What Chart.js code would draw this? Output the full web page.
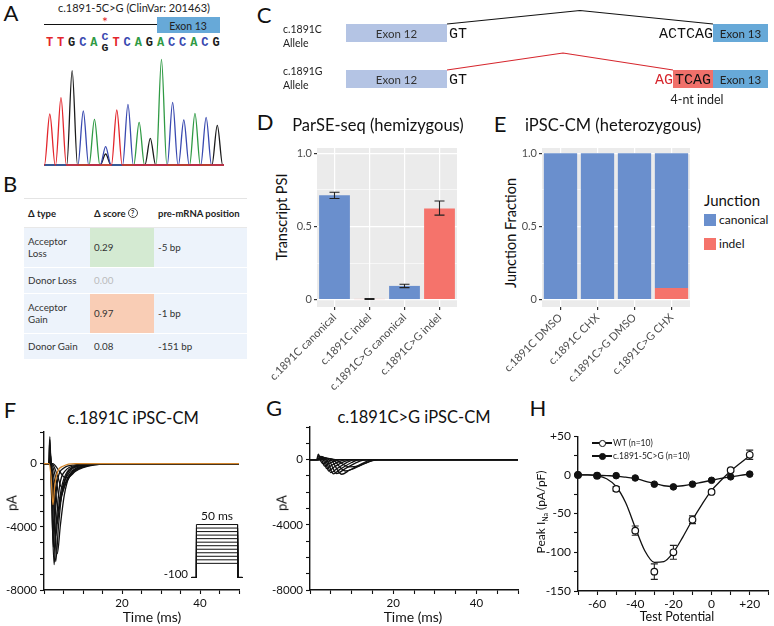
<!DOCTYPE html>
<html><head><meta charset="utf-8"><title>Figure</title>
<script src="https://cdn.jsdelivr.net/npm/chart.js@4.4.1/dist/chart.umd.min.js"></script>
<style>
html,body{margin:0;padding:0;background:#fff}
#root{position:relative;width:774px;height:626px;overflow:hidden;font-family:Lato,"Open Sans",sans-serif;color:#1a1a1a}
.t{position:absolute;white-space:nowrap;line-height:1}
#root canvas{position:absolute}
.rect{position:absolute}
.mono{font-family:"Liberation Mono","DejaVu Sans Mono",monospace}
.row{display:flex;border-bottom:1px solid #fff}
.cell{display:flex;align-items:center;box-sizing:border-box;padding-left:4px}
</style></head>
<body><div id="root"></div>
<script>
// ================= DATA =================
// A: Sanger chromatogram around c.1891-5C>G
const seqBases = ['T','T','G','C','A','C','T','C','A','G','A','C','C','A','C','G'];
const peakHeights = [153,202,283,162,137,55,165,182,128,80,317,188,135,155,143,119];
const variantIndex = 5;
const variantAlt = 'G';
const altPeakHeight = 33;

// B: SpliceAI table
const deltaTypes = ['Acceptor Loss','Donor Loss','Acceptor Gain','Donor Gain'];
const deltaScores = ['0.29','0.00','0.97','0.08'];
const deltaPositions = ['-5 bp','','-1 bp','-151 bp'];

// D: ParSE-seq
const psiLabels = ['c.1891C canonical','c.1891C indel','c.1891C>G canonical','c.1891C>G indel'];
const psiJunction = ['canonical','indel','canonical','indel'];
const psiValues = [0.712, 0.005, 0.094, 0.623];
const psiErrLow = [0.69, 0.002, 0.082, 0.577];
const psiErrHigh = [0.733, 0.008, 0.105, 0.673];
const psiTicks = [0, 0.25, 0.5, 0.75, 1];
const psiTickLabels = ['0', '', '0.5', '', '1.0'];

// E: iPSC-CM junction fractions
const cmLabels = ['c.1891C DMSO','c.1891C CHX','c.1891C>G DMSO','c.1891C>G CHX'];
const cmIndel = [0, 0, 0, 0.08];
const cmCanonical = [1, 1, 1, 0.92];

// F: c.1891C iPSC-CM sodium current traces [time ms, current pA]
const fTraces = [
 [[0,0],[1.2,0],[1.5,1700],[1.9,-1500],[2.4,-5300],[2.9,-2500],[3.6,-900],[5,-300],[8,-80],[12,0],[50,0]],
 [[0,0],[1.2,0],[1.5,1500],[2.0,-2500],[2.6,-6400],[3.2,-3600],[4.0,-1400],[5.5,-450],[8.5,-120],[13,0],[50,0]],
 [[0,0],[1.3,0],[1.6,800],[2.2,-2500],[3.0,-6200],[3.7,-4000],[4.6,-1800],[6,-600],[9,-150],[14,0],[50,0]],
 [[0,0],[1.3,0],[1.7,500],[2.5,-2500],[3.4,-5700],[4.2,-3900],[5.2,-2000],[6.5,-800],[9.5,-250],[15,0],[50,0]],
 [[0,0],[1.4,0],[2.3,-1500],[3.0,-4600],[3.7,-2900],[4.6,-1400],[6,-500],[9,-120],[14,0],[50,0]],
 [[0,0],[1.5,0],[2.5,-1500],[3.3,-3800],[4.1,-2500],[5.2,-1200],[6.8,-450],[10,-100],[15,0],[50,0]],
 [[0,0],[1.6,0],[2.8,-1300],[3.6,-3000],[4.5,-2100],[5.7,-1100],[7.3,-450],[10.5,-120],[16,0],[50,0]],
 [[0,0],[1.8,0],[3.1,-1000],[4.0,-2200],[5.0,-1600],[6.3,-900],[8,-400],[11,-120],[17,0],[50,0]],
 [[0,0],[2.0,0],[3.5,-800],[4.5,-1500],[5.6,-1200],[7,-700],[8.7,-330],[12,-100],[18,0],[50,0]],
 [[0,0],[2.2,0],[4.0,-500],[5.5,-900],[6.7,-800],[8,-500],[10,-250],[13,-80],[19,0],[50,0]],
 [[0,0],[1.3,0],[1.8,-800],[2.3,-2600],[2.8,-1300],[3.5,-500],[5,-150],[8,0],[50,0]]
];
// G: c.1891C>G iPSC-CM traces
const gTraces = [
 [[0,0],[1.6,0],[2.0,340],[2.6,-100],[3.2,-250],[4.2,-120],[6,0],[50,0]],
 [[0,0],[1.7,0],[2.1,250],[2.8,0],[3.5,-400],[4.5,-250],[6.5,-50],[8,0],[50,0]],
 [[0,0],[1.8,0],[2.4,200],[3.2,0],[4.0,-550],[5.2,-350],[7.5,-80],[9,0],[50,0]],
 [[0,0],[2.0,0],[2.6,200],[3.5,0],[4.5,-700],[5.8,-450],[8.2,-120],[10,0],[50,0]],
 [[0,0],[2.0,0],[2.8,180],[3.8,0],[5.0,-800],[6.5,-550],[9,-150],[11,0],[50,0]],
 [[0,0],[2.2,0],[3.0,150],[4.1,0],[5.6,-870],[7.2,-600],[10,-180],[12,0],[50,0]],
 [[0,0],[2.3,0],[3.2,120],[4.5,0],[6.4,-860],[8.2,-600],[11,-200],[13.5,0],[50,0]],
 [[0,0],[2.5,0],[3.5,100],[5.0,0],[7.6,-900],[9.5,-650],[12.5,-250],[15,0],[50,0]],
 [[0,0],[2.7,0],[3.8,80],[5.5,0],[8.5,-700],[10.5,-550],[13.5,-200],[16,0],[50,0]],
 [[0,0],[3.0,0],[4.2,60],[6,0],[9.5,-450],[11.5,-400],[14,-150],[16.5,0],[50,0]]
];
const traceYTicks = [-8000,-7000,-6000,-5000,-4000,-3000,-2000,-1000,0,1000,2000];
const traceYTickLabels = ['-8000','','','','-4000','','','','0','',''];
const traceXTicks = [0,5,10,15,20,25,30,35,40,45,50];
const traceXTickLabels = ['','','','','20','','','','40','',''];

// Voltage protocol (inset)
const protoHolding = -100;
const protoSteps = [-60,-50,-40,-30,-20,-10,0,10,20,30,40,50];
const protoDuration = 50;

// H: peak INa density vs test potential
const hVoltages = [-70,-60,-50,-40,-30,-20,-10,0,10,20];
const hWT = [0,-1,-18,-72,-125,-100,-58,-22,6,26];
const hWTerr = [1,1,3,6,10,9,5,2,2,6];
const hMut = [0,-1,-1,-4,-12,-15.5,-12,-7,-2.5,1];
const hFitV = [-70,-65,-60,-55,-50,-45,-40,-35,-30,-25,-20,-15,-10,-5,0,5,10,15,20];
const hWTFit = [0,0,-1,-5,-15,-36,-68,-98,-113,-112,-100,-80,-58,-38,-20,-7,5,15,25];
const hMutFit = [0,0,-0.5,-1,-1.5,-3,-4.5,-8,-11,-14,-15,-14,-12,-9.5,-7,-4.5,-2.5,-0.5,1];
const hYTicks = [-150,-125,-100,-75,-50,-25,0,25,50];
const hYTickLabels = ['-150','','-100','','-50','','0','','+50'];
const hXTicks = [-70,-60,-50,-40,-30,-20,-10,0,10,20,30];
const hXTickLabels = ['','-60','','-40','','-20','','0','','+20',''];

// ================= HELPERS =================
const root = document.getElementById('root');
function txt(s, x, y, o) {
  o = o || {};
  const d = document.createElement('div');
  d.className = 't' + (o.mono ? ' mono' : '');
  if (o.html) d.innerHTML = s; else d.textContent = s;
  d.style.left = x + 'px'; d.style.top = y + 'px';
  d.style.fontSize = (o.size || 12) + 'px';
  if (o.color) d.style.color = o.color;
  if (o.weight) d.style.fontWeight = o.weight;
  const ax = o.align === 'left' ? '0%' : o.align === 'right' ? '-100%' : '-50%';
  d.style.transform = 'translate(' + ax + ',-50%)' + (o.rotate ? ' rotate(' + o.rotate + 'deg)' : '');
  root.appendChild(d); return d;
}
function rect(x, y, w, h, bg) {
  const d = document.createElement('div'); d.className = 'rect';
  d.style.cssText += 'left:' + x + 'px;top:' + y + 'px;width:' + w + 'px;height:' + h + 'px;background:' + bg;
  root.appendChild(d); return d;
}
function mkCanvas(x, y, w, h) {
  const c = document.createElement('canvas');
  c.width = w; c.height = h;
  c.style.left = x + 'px'; c.style.top = y + 'px'; c.style.width = w + 'px'; c.style.height = h + 'px';
  root.appendChild(c); return c;
}
function fitY(w) { return s => { s.width = w; s.paddingTop = 0; s.paddingBottom = 0; }; }
function fitX(h) { return s => { s.height = h; s.paddingLeft = 0; s.paddingRight = 0; }; }
function setTicks(vals) { return s => { s.ticks = vals.map(v => ({ value: v })); }; }
function labelFrom(vals, labels) { return v => { const i = vals.indexOf(v); return i < 0 ? '' : labels[i]; }; }

Chart.defaults.font.family = 'Lato';
Chart.defaults.color = '#222';
const noPlug = { legend: { display: false }, tooltip: { enabled: false }, title: { display: false } };
const BLUE = '#6a8fcd', RED = '#f5736b';

const panelBg = { id: 'panelBg', beforeDraw(chart) { const a = chart.chartArea, c = chart.ctx; c.save(); c.fillStyle = '#ebebeb'; c.fillRect(a.left, a.top, a.width, a.height); c.restore(); } };
function drawErr(chart, idx, when) {
  const ds = chart.data.datasets[idx];
  if (!ds.errLow || ds.errWhen !== when) return;
  const meta = chart.getDatasetMeta(idx), ys = chart.scales.y, c = chart.ctx, cap = ds.errCap;
  c.save(); c.strokeStyle = '#222'; c.lineWidth = ds.errWidth || 1.1;
  meta.data.forEach((el, i) => {
    const lo = ds.errLow[i], hi = ds.errHigh[i];
    if (lo == null) return;
    const x = el.x, y1 = ys.getPixelForValue(lo), y2 = ys.getPixelForValue(hi);
    c.beginPath(); c.moveTo(x, y1); c.lineTo(x, y2);
    c.moveTo(x - cap, y1); c.lineTo(x + cap, y1); c.moveTo(x - cap, y2); c.lineTo(x + cap, y2); c.stroke();
  });
  c.restore();
}
const errPlugin = { id: 'errbars',
  beforeDatasetDraw(chart, args) { drawErr(chart, args.index, 'before'); },
  afterDatasetDraw(chart, args) { drawErr(chart, args.index, 'after'); } };

// ================= PANEL LETTERS =================
[['A',11,13],['B',10,184],['C',264,15],['D',265,122],['E',500,124],['F',10,410],['G',274,408],['H',538,408]]
  .forEach(p => txt(p[0], p[1], p[2], { size: 22, color: '#111' }));

// ================= A =================
txt('c.1891-5C>G (ClinVar: 201463)', 134, 7, { size: 11, color: '#222' });
rect(44, 24, 113, 1.2, '#111');
txt('*', 105, 22, { size: 14, color: '#e3262c' });
rect(157, 17, 63, 16, '#67a9d8');
txt('Exon 13', 188, 25.5, { size: 10.5, color: '#222' });
const baseColors = { A: '#2f9a44', C: '#3949b0', G: '#1b1b1b', T: '#e3262c' };
seqBases.forEach((b, i) => {
  const x = 49.5 + i * 11.1;
  if (i === variantIndex) {
    txt(b, x, 37, { size: 11.5, mono: true, weight: 'bold', color: baseColors[b] });
    txt(variantAlt, x, 48, { size: 11.5, mono: true, weight: 'bold', color: baseColors[variantAlt] });
  } else {
    txt(b, x, 43, { size: 12, mono: true, weight: 'bold', color: baseColors[b] });
  }
});
(function () {
  const x0 = -0.52, x1 = 15.6, hw = 0.48;
  const peaks = { A: [], C: [], G: [], T: [] };
  seqBases.forEach((b, i) => peaks[b].push([i, peakHeights[i]]));
  peaks[variantAlt].push([variantIndex, altPeakHeight]);
  const datasets = ['T', 'C', 'A', 'G'].map(b => {
    const pk = peaks[b].sort((p, q) => p[0] - q[0]);
    const pts = [{ x: x0, y: 0 }];
    pk.forEach(p => { pts.push({ x: p[0] - hw, y: 0 }, { x: p[0], y: p[1] }, { x: p[0] + hw, y: 0 }); });
    pts.push({ x: x1, y: 0 });
    return { data: pts, borderColor: baseColors[b], borderWidth: 1.3, pointRadius: 0, cubicInterpolationMode: 'monotone' };
  });
  new Chart(mkCanvas(44, 55, 180, 113), {
    type: 'line', data: { datasets },
    options: { responsive: false, maintainAspectRatio: false, animation: false, plugins: noPlug, layout: { padding: 0 },
      scales: { x: { type: 'linear', display: false, min: x0, max: x1 }, y: { display: false, min: -9, max: 330 } } }
  });
})();

// ================= B =================
(function () {
  const tb = document.createElement('div');
  tb.style.cssText = 'position:absolute;left:24px;top:198px;width:223px;border-top:1px solid #e4e4e4;font-family:Lato;color:#333';
  const widths = [66, 64, 93];
  const hdr = document.createElement('div'); hdr.className = 'row'; hdr.style.height = '28px'; hdr.style.borderBottom = '1px solid #e8e8e8';
  ['&#916; type', '&#916; score <span style="display:inline-block;width:8px;height:8px;border:1px solid #444;border-radius:50%;font-size:7px;line-height:8px;text-align:center;vertical-align:1px;margin-left:2px">?</span>', 'pre-mRNA position']
    .forEach((h, i) => { const c = document.createElement('div'); c.className = 'cell'; c.style.width = widths[i] + 'px'; c.style.fontWeight = 'bold'; c.style.fontSize = '9.5px'; c.style.color = '#222'; c.innerHTML = h; hdr.appendChild(c); });
  tb.appendChild(hdr);
  const heights = [39, 25, 39, 25];
  const scoreBg = { '0.29': '#d4ead2', '0.97': '#f9cdb5' };
  deltaTypes.forEach((t, r) => {
    const row = document.createElement('div'); row.className = 'row'; row.style.height = heights[r] + 'px'; row.style.background = '#edf3fb';
    [t, deltaScores[r], deltaPositions[r]].forEach((v, i) => {
      const c = document.createElement('div'); c.className = 'cell'; c.style.width = widths[i] + 'px'; c.style.fontSize = '9.8px';
      c.style.lineHeight = '1.15';
      if (i === 0) c.style.paddingRight = '10px';
      if (i === 1 && scoreBg[v]) c.style.background = scoreBg[v];
      if (i === 1 && v === '0.00') c.style.color = '#bbb';
      c.textContent = v; row.appendChild(c);
    });
    tb.appendChild(row);
  });
  root.appendChild(tb);
})();

// ================= C =================
(function () {
  const ns = 'http://www.w3.org/2000/svg';
  const svg = document.createElementNS(ns, 'svg');
  svg.setAttribute('width', 774); svg.setAttribute('height', 120);
  svg.style.cssText = 'position:absolute;left:0;top:0';
  [['447,24 580,10.5 713,24', '#111'], ['447,70 563,53 673,70', '#d6262d']].forEach(p => {
    const pl = document.createElementNS(ns, 'polyline');
    pl.setAttribute('points', p[0]); pl.setAttribute('fill', 'none'); pl.setAttribute('stroke', p[1]); pl.setAttribute('stroke-width', '1.2');
    svg.appendChild(pl);
  });
  root.appendChild(svg);
  txt('c.1891C', 283, 29, { size: 10.5, align: 'left', color: '#222' });
  txt('Allele', 283, 43, { size: 10.5, align: 'left', color: '#222' });
  txt('c.1891G', 283, 71, { size: 10.5, align: 'left', color: '#222' });
  txt('Allele', 283, 85, { size: 10.5, align: 'left', color: '#222' });
  [24, 70].forEach(y => {
    rect(346, y, 101, 18, '#b4c4e4');
    txt('Exon 12', 396.5, y + 9.5, { size: 11.5, color: '#333' });
    rect(713, y, 55, 18, '#67a9d8');
    txt('Exon 13', 740.5, y + 9.5, { size: 11.5, color: '#222' });
    txt('GT', 449, y + 10, { size: 15, mono: true, align: 'left', color: '#111' });
  });
  txt('ACTCAG', 713, 34, { size: 15, mono: true, align: 'right', color: '#111' });
  rect(673, 70, 40, 18, '#f0706a');
  txt('TCAG', 693, 80, { size: 15, mono: true, color: '#111' });
  txt('AG', 673, 80, { size: 15, mono: true, align: 'right', color: '#d6262d' });
  txt('4-nt indel', 697, 100, { size: 12.5, color: '#222' });
})();

// ================= D =================
txt('ParSE-seq (hemizygous)', 378, 125, { size: 16.5, color: '#111' });
txt('Transcript PSI', 282, 217, { size: 14.5, rotate: -90, color: '#111' });
function ggY(w) {
  const isMajor = c => c.tick && psiTickLabels[psiTicks.indexOf(c.tick.value)] !== '';
  return { min: -0.05, max: 1.035, stacked: true, afterBuildTicks: setTicks(psiTicks),
    grid: { color: '#fff', lineWidth: c => isMajor(c) ? 1.2 : 0.6, tickLength: 3, tickColor: c => isMajor(c) ? '#333' : 'rgba(0,0,0,0)' },
    border: { display: false },
    ticks: { callback: labelFrom(psiTicks, psiTickLabels), font: { size: 11 }, color: '#4d4d4d', padding: 2, autoSkip: false },
    afterFit: fitY(w) };
}
function ggX() {
  return { stacked: true, grid: { offset: false, color: '#fff', lineWidth: 1.2, tickLength: 3, tickColor: '#333' }, border: { display: false },
    ticks: { autoSkip: false, minRotation: 45, maxRotation: 45, font: { size: 11 }, color: '#4d4d4d', padding: 1 },
    afterFit: fitX(83) };
}
new Chart(mkCanvas(262, 140, 200, 250), {
  type: 'bar',
  data: { labels: psiLabels, datasets: [{ data: psiValues, backgroundColor: psiJunction.map(j => j === 'indel' ? RED : BLUE),
    errLow: psiErrLow, errHigh: psiErrHigh, errWhen: 'after', errCap: 5, categoryPercentage: 1, barPercentage: 0.88 }] },
  options: { responsive: false, maintainAspectRatio: false, animation: false, plugins: noPlug,
    layout: { padding: { top: 8, right: 5, left: 0, bottom: 0 } },
    scales: { x: ggX(), y: ggY(55) } },
  plugins: [panelBg, errPlugin]
});

// ================= E =================
txt('iPSC-CM (heterozygous)', 613, 125, { size: 16.5, color: '#111' });
txt('Junction Fraction', 511, 233, { size: 14.5, rotate: -90, color: '#111' });
new Chart(mkCanvas(500, 140, 194, 250), {
  type: 'bar',
  data: { labels: cmLabels, datasets: [
    { label: 'indel', data: cmIndel, backgroundColor: RED, categoryPercentage: 1, barPercentage: 0.9 },
    { label: 'canonical', data: cmCanonical, backgroundColor: BLUE, categoryPercentage: 1, barPercentage: 0.9 } ] },
  options: { responsive: false, maintainAspectRatio: false, animation: false, plugins: noPlug,
    layout: { padding: { top: 8, right: 4, left: 0, bottom: 0 } },
    scales: { x: ggX(), y: ggY(42) } },
  plugins: [panelBg]
});
txt('Junction', 704, 200, { size: 15, align: 'left', color: '#111' });
rect(704, 214, 12, 12, BLUE);
txt('canonical', 719, 220, { size: 12, align: 'left', color: '#111' });
rect(704, 238, 12, 12, RED);
txt('indel', 719, 244, { size: 12, align: 'left', color: '#111' });

// ================= F / G =================
function ephysScale(extra) {
  return Object.assign({ type: 'linear', border: { display: true, color: '#111', width: 1.4 },
    grid: { display: true, drawOnChartArea: false, drawTicks: true, tickLength: 4, tickColor: '#111', tickWidth: 1.1 } }, extra);
}
function traceChart(canvas, traces, padRight, yW, highlightLast) {
  return new Chart(canvas, {
    type: 'line',
    data: { datasets: traces.map((tr, i) => ({ data: tr.map(p => ({ x: p[0], y: p[1] })),
      borderColor: (highlightLast && i === traces.length - 1) ? '#d4862c' : '#111', borderWidth: 1.3, pointRadius: 0,
      cubicInterpolationMode: 'monotone' })).reverse() },
    options: { responsive: false, maintainAspectRatio: false, animation: false, plugins: noPlug,
      layout: { padding: { top: 4, right: padRight, left: 0, bottom: 0 } },
      scales: {
        x: ephysScale({ min: 0, max: 50, afterBuildTicks: setTicks(traceXTicks),
          ticks: { callback: labelFrom(traceXTicks, traceXTickLabels), font: { size: 11.5 }, color: '#111', padding: 2, autoSkip: false, maxRotation: 0 },
          afterFit: fitX(36) }),
        y: ephysScale({ min: -8000, max: 2000, afterBuildTicks: setTicks(traceYTicks),
          ticks: { callback: labelFrom(traceYTicks, traceYTickLabels), font: { size: 11.5 }, color: '#111', padding: 3, autoSkip: false },
          afterFit: fitY(yW) })
      } }
  });
}
txt('c.1891C iPSC-CM', 133, 418, { size: 16.5, color: '#111' });
traceChart(mkCanvas(0, 428, 250, 198), fTraces, 11, 44, true);
txt('pA', 12, 503, { size: 13, rotate: -90, color: '#111' });
txt('Time (ms)', 152, 617, { size: 14, color: '#111' });
// voltage protocol inset
new Chart(mkCanvas(189, 521, 56, 60), {
  type: 'line',
  data: { datasets: protoSteps.map(v => ({ data: [
    { x: -6, y: protoHolding }, { x: 0, y: protoHolding }, { x: 0, y: v }, { x: protoDuration, y: v },
    { x: protoDuration, y: protoHolding }, { x: protoDuration + 6, y: protoHolding }],
    borderColor: '#111', borderWidth: 1, pointRadius: 0, tension: 0 })) },
  options: { responsive: false, maintainAspectRatio: false, animation: false, plugins: noPlug, layout: { padding: 0 },
    scales: { x: { type: 'linear', display: false, min: -9, max: 59 }, y: { display: false, min: -110, max: 60 } } }
});
txt('50 ms', 217, 516, { size: 12, color: '#111' });
txt('-100', 188, 574, { size: 11.5, align: 'right', color: '#111' });

txt('c.1891C>G iPSC-CM', 414, 417, { size: 16.5, color: '#111' });
traceChart(mkCanvas(265, 423, 258, 203), gTraces, 5, 45, false);
txt('pA', 282, 503, { size: 13, rotate: -90, color: '#111' });
txt('Time (ms)', 413, 617, { size: 14, color: '#111' });

// ================= H =================
new Chart(mkCanvas(515, 431, 259, 195), {
  type: 'line',
  data: { datasets: [
    { data: hVoltages.map((v, i) => ({ x: v, y: hMut[i] })), showLine: false, pointRadius: 3.3, pointBackgroundColor: '#111', pointBorderColor: '#111', pointBorderWidth: 1, clip: false },
    { data: hVoltages.map((v, i) => ({ x: v, y: hWT[i] })), showLine: false, pointRadius: 3.3, pointBackgroundColor: '#fff', pointBorderColor: '#111', pointBorderWidth: 1.2, clip: false,
      errLow: hWT.map((v, i) => v - hWTerr[i]), errHigh: hWT.map((v, i) => v + hWTerr[i]), errWhen: 'before', errCap: 3.5, errWidth: 1.1 },
    { data: hFitV.map((v, i) => ({ x: v, y: hWTFit[i] })), borderColor: '#111', borderWidth: 1.3, pointRadius: 0, cubicInterpolationMode: 'monotone' },
    { data: hFitV.map((v, i) => ({ x: v, y: hMutFit[i] })), borderColor: '#111', borderWidth: 1.3, pointRadius: 0, cubicInterpolationMode: 'monotone' }
  ] },
  options: { responsive: false, maintainAspectRatio: false, animation: false, plugins: noPlug,
    layout: { padding: { top: 4, right: 1, left: 0, bottom: 0 } },
    scales: {
      x: ephysScale({ min: -70, max: 30, afterBuildTicks: setTicks(hXTicks),
        ticks: { callback: labelFrom(hXTicks, hXTickLabels), font: { size: 12 }, color: '#111', padding: 2, autoSkip: false, maxRotation: 0 },
        afterFit: fitX(35) }),
      y: ephysScale({ min: -150, max: 50, afterBuildTicks: setTicks(hYTicks),
        ticks: { callback: labelFrom(hYTicks, hYTickLabels), font: { size: 12 }, color: '#111', padding: 3, autoSkip: false },
        afterFit: fitY(63) })
    } },
  plugins: [errPlugin]
});
txt('Peak I<sub style="font-size:7px">Na</sub> (pA/pF)', 542, 512, { size: 12, rotate: -90, color: '#111', html: true });
txt('Test Potential', 677, 617, { size: 12.5, color: '#111' });
// legend
[[443, '#fff', 'WT (n=10)'], [456, '#111', 'c.1891-5C>G (n=10)']].forEach(r => {
  rect(592, r[0] - 0.6, 20, 1.2, '#111');
  const c = rect(599, r[0] - 3, 4.6, 4.6, r[1]); c.style.border = '1px solid #111'; c.style.borderRadius = '50%';
  txt(r[2], 613, r[0], { size: 8.5, align: 'left', color: '#222' });
});
</script></body></html>
